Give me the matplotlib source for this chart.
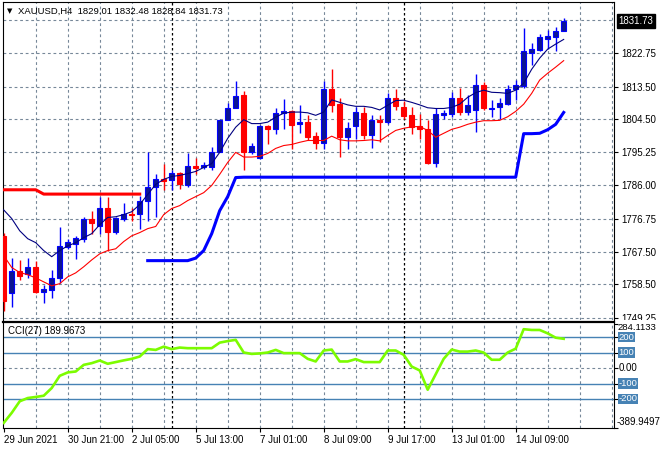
import matplotlib.pyplot as plt
import matplotlib.transforms as mtransforms
import numpy as np

plt.rcParams['font.family'] = ['Liberation Sans', 'DejaVu Sans']
plt.rcParams['font.size'] = 7

# H4 candles (oldest first)
opens = [1772.0, 1756.2, 1762.1, 1761.5, 1763.4, 1756.5, 1757.0, 1760.3, 1769.0, 1769.7,
         1771.1, 1776.7, 1774.8, 1779.8, 1773.0, 1776.7, 1778.1, 1778.1, 1781.8, 1785.5,
         1787.9, 1787.4, 1789.4, 1786.0, 1791.3, 1791.1, 1791.1, 1795.3, 1804.1, 1807.4,
         1811.1, 1795.3, 1793.7, 1802.4, 1801.8, 1806.1, 1806.7, 1803.2, 1803.6, 1799.7,
         1797.8, 1812.7, 1808.6, 1799.5, 1802.4, 1806.1, 1799.9, 1804.3, 1803.6, 1810.4,
         1807.7, 1805.5, 1802.4, 1801.8, 1792.2, 1805.7, 1805.8, 1810.4, 1806.4, 1807.1,
         1813.9, 1807.3, 1807.7, 1808.6, 1812.9, 1813.6, 1822.9, 1823.6, 1826.8, 1827.3,
         1829.01]
highs = [1772.9, 1765.9, 1765.3, 1765.9, 1765.1, 1758.4, 1762.6, 1774.4, 1771.2, 1772.0,
         1777.1, 1779.0, 1782.9, 1782.7, 1777.1, 1781.0, 1779.6, 1783.2, 1795.3, 1789.3,
         1792.1, 1790.2, 1789.7, 1794.9, 1793.5, 1792.5, 1796.7, 1804.4, 1809.0, 1815.1,
         1812.3, 1797.8, 1802.7, 1802.7, 1807.4, 1809.9, 1807.1, 1808.5, 1805.5, 1800.9,
         1815.1, 1818.5, 1810.2, 1803.6, 1807.8, 1807.8, 1805.5, 1805.5, 1811.7, 1812.7,
         1809.5, 1807.8, 1806.0, 1804.1, 1807.4, 1807.1, 1812.0, 1813.0, 1811.1, 1817.1,
         1814.8, 1809.7, 1810.4, 1813.9, 1815.3, 1829.7, 1825.7, 1828.1, 1829.2, 1830.1,
         1832.48]
lows = [1751.1, 1752.2, 1759.8, 1760.4, 1756.2, 1753.2, 1754.6, 1759.0, 1768.4, 1765.5,
        1770.2, 1772.5, 1772.5, 1767.9, 1772.6, 1776.2, 1776.2, 1773.9, 1776.2, 1777.1,
        1784.6, 1784.6, 1785.1, 1785.5, 1789.1, 1790.6, 1790.2, 1795.2, 1804.1, 1807.4,
        1790.2, 1794.8, 1793.4, 1797.4, 1800.2, 1801.8, 1796.2, 1800.6, 1798.5, 1796.2,
        1796.2, 1806.4, 1793.9, 1796.2, 1799.0, 1799.0, 1796.5, 1798.1, 1803.2, 1806.9,
        1804.6, 1800.4, 1799.0, 1792.0, 1791.1, 1804.6, 1804.9, 1805.5, 1805.5, 1800.9,
        1806.9, 1804.9, 1804.6, 1808.3, 1809.7, 1813.2, 1819.5, 1823.4, 1823.8, 1823.4,
        1828.84]
closes = [1753.9, 1762.1, 1760.9, 1763.4, 1756.5, 1757.3, 1760.3, 1769.2, 1770.4, 1771.4,
          1776.7, 1775.5, 1779.8, 1773.0, 1776.9, 1778.1, 1777.8, 1781.8, 1785.5, 1787.9,
          1787.2, 1789.4, 1786.3, 1791.3, 1790.9, 1791.8, 1795.3, 1804.1, 1807.4, 1810.8,
          1795.3, 1797.1, 1802.4, 1801.8, 1806.1, 1806.7, 1802.7, 1803.6, 1799.5, 1797.8,
          1812.7, 1808.3, 1799.5, 1802.1, 1806.4, 1799.9, 1804.3, 1803.6, 1810.4, 1808.0,
          1805.2, 1802.2, 1801.7, 1792.2, 1805.8, 1806.1, 1810.4, 1806.4, 1808.3, 1813.9,
          1807.4, 1807.4, 1808.8, 1812.9, 1813.9, 1823.4, 1823.8, 1827.2, 1827.5, 1828.9,
          1831.73]

# indicator lines
ma_fast = [1779.2, 1776.8, 1773.4, 1771.2, 1770.1, 1767.9, 1766.2, 1767.9, 1769.2, 1770.1,
           1771.5, 1772.6, 1775.1, 1777.1, 1777.3, 1777.9, 1778.7, 1780.7, 1783.5, 1786.3,
           1787.7, 1788.5, 1788.8, 1789.3, 1789.9, 1791.0, 1792.1, 1795.2, 1799.1, 1802.2,
           1804.3, 1803.2, 1803.2, 1803.6, 1805.0, 1806.1, 1806.4, 1806.4, 1806.2, 1805.5,
           1806.4, 1809.8, 1809.1, 1808.4, 1808.0, 1808.0, 1807.7, 1807.0, 1808.3, 1809.6,
           1809.7, 1809.1, 1808.4, 1807.6, 1807.4, 1807.4, 1807.7, 1808.6, 1810.5, 1811.8,
           1812.5, 1811.9, 1811.8, 1811.6, 1812.5, 1814.4, 1818.3, 1821.4, 1823.9, 1825.3,
           1826.6]
ma_slow = [1766.5, 1763.2, 1761.8, 1761.2, 1760.3, 1759.2, 1758.1, 1758.7, 1760.6, 1761.7,
           1763.4, 1765.3, 1767.0, 1767.9, 1768.4, 1770.4, 1772.0, 1772.9, 1774.0, 1774.6,
           1777.9, 1779.6, 1780.4, 1781.8, 1782.9, 1784.0, 1786.0, 1789.1, 1792.4, 1795.2,
           1793.9, 1793.9, 1794.1, 1794.9, 1796.3, 1797.1, 1797.4, 1798.0, 1798.5, 1798.5,
           1798.5, 1799.7, 1798.7, 1798.4, 1798.4, 1798.5, 1798.7, 1798.4, 1799.9, 1801.3,
           1801.9, 1802.3, 1802.4, 1801.3, 1799.4, 1800.5, 1801.6, 1802.2, 1803.0, 1803.6,
           1804.0, 1804.0, 1804.1, 1805.1, 1806.6, 1808.6, 1811.6, 1815.3, 1817.2, 1818.9,
           1820.7]
stop_red = [1784.8, 1784.8, 1784.8, 1784.8, 1784.8, 1783.6, 1783.6, 1783.6, 1783.6,
            1783.6, 1783.6, 1783.6, 1783.6, 1783.6, 1783.6, 1783.6, 1783.6, 1783.6]
stop_blue = [1765.1, 1765.1, 1765.1, 1765.1, 1765.1, 1765.1, 1765.8, 1767.9, 1772.6,
             1779.0, 1782.9, 1788.2, 1788.3, 1788.3, 1788.3, 1788.3, 1788.3, 1788.3,
             1788.3, 1788.3, 1788.3, 1788.3, 1788.3, 1788.3, 1788.3, 1788.3, 1788.3,
             1788.3, 1788.3, 1788.3, 1788.3, 1788.3, 1788.3, 1788.3, 1788.3, 1788.3,
             1788.3, 1788.3, 1788.3, 1788.3, 1788.3, 1788.3, 1788.3, 1788.3, 1788.3,
             1788.3, 1788.3, 1800.4, 1800.4, 1800.5, 1801.5, 1803.0, 1806.3]
cci = [-355, -290, -215, -194, -187, -179, -129, -50, -28, -22,
       21, 32, 49, 28, 39, 50, 60, 75, 123, 118,
       139, 123, 133, 129, 129, 129, 129, 165, 175, 183,
       101, 92, 95, 101, 118, 97, 97, 97, 60, 43,
       114, 120, 43, 43, 58, 39, 39, 39, 114, 114,
       86, 10, -15, -140, -40, 60, 120, 107, 107, 114,
       101, 54, 54, 101, 126, 252, 247, 247, 225, 197,
       189.9673]
cci_max, cci_min = 284.1133, -389.9497
cci_levels = [200, 100, -100, -200]

price_ticks = [1749.25, 1758.50, 1767.50, 1776.75, 1786.00, 1795.25, 1804.50, 1813.50, 1822.75]
price_grid = price_ticks + [1832.0]
time_labels = ["29 Jun 2021", "30 Jun 21:00", "2 Jul 05:00", "5 Jul 13:00", "7 Jul 01:00",
               "8 Jul 09:00", "9 Jul 17:00", "13 Jul 01:00", "14 Jul 09:00"]
time_pos = [0, 8, 16, 24, 32, 40, 48, 56, 64]
week_sep = [21, 50]

W, H = 660, 450
grid_kw = dict(color='#778899', lw=0.8, linestyle=(0, (2.5, 2.5)), zorder=1)


def px_box(left, top, right, bottom):
    return [left / W, 1 - bottom / H, (right - left) / W, (bottom - top) / H]


fig = plt.figure(figsize=(6.6, 4.5), dpi=100)
ax = fig.add_axes(px_box(3, 2, 614, 320))
ax2 = fig.add_axes(px_box(3, 321.7, 614, 428.3), sharex=ax)

bars = np.arange(len(closes))

# grids and separators
for a in (ax, ax2):
    for g in range(4, 77, 4):
        a.axvline(g, **grid_kw)
    for s in week_sep:
        a.axvline(s, color='black', lw=0.9, linestyle=(0, (2, 2)), zorder=2)
for p in price_grid:
    ax.axhline(p, **grid_kw)

# candles
for i in bars:
    up = closes[i] >= opens[i]
    wick = '#0000ff' if up else '#ff0000'
    face = '#0c1591' if up else '#ff0000'
    lo, hi = min(opens[i], closes[i]), max(opens[i], closes[i])
    ax.vlines(i, lows[i], highs[i], color=wick, lw=1, zorder=3)
    ax.bar(i, hi - lo, bottom=lo, width=0.6, color=face, edgecolor=wick, lw=0.8, zorder=4)

ax.plot(bars, ma_fast, color='#000080', lw=0.8, zorder=5)
ax.plot(bars, ma_slow, color='#ff0000', lw=0.8, zorder=5)
ax.plot(bars[:len(stop_red)], stop_red, color='#ff0000', lw=2.2, zorder=5)
ax.plot(bars[len(bars) - len(stop_blue):], stop_blue, color='#0000ff', lw=2.2, zorder=5)

ax.set_xlim(-0.09, 76.29)
ax.set_ylim(1748.6, 1837.0)
ax.yaxis.tick_right()
ax.set_yticks(price_ticks)
ax.set_yticklabels([f"{p:.2f}" for p in price_ticks])
ax.tick_params(axis='y', length=3, width=0.8, pad=2, labelsize=7)
ax.tick_params(axis='x', bottom=False, labelbottom=False)
ax.spines['bottom'].set_visible(False)

# the lowest price label is cut off by the indicator window, as in the terminal
clip = mtransforms.TransformedBbox(mtransforms.Bbox([[0, 1 - 320 / H], [1, 1]]),
                                   fig.transFigure)
for lbl in ax.get_yticklabels():
    lbl.set_clip_on(True)
    lbl.set_clip_box(clip)

# last price box
bt = mtransforms.blended_transform_factory(ax.transAxes, ax.transData)
ax.text(1.0075, closes[-1], f"{closes[-1]:.2f}", transform=bt, ha='left', va='center',
        color='white', fontsize=7,
        bbox=dict(boxstyle='square,pad=0.2', fc='black', ec='black'))

# chart header
ax.text(4 / 611, 1 - 9 / 318, "\u25bc", transform=ax.transAxes, fontsize=5,
        family='DejaVu Sans', ha='left', va='center')
ax.text(15 / 611, 1 - 9 / 318,
        f"XAUUSD,H4  {opens[-1]:.2f} {highs[-1]:.2f} {lows[-1]:.2f} {closes[-1]:.2f}",
        transform=ax.transAxes, ha='left', va='center', fontsize=6.8)

# CCI subwindow
ax2.axhline(0, **grid_kw)
for lv in cci_levels:
    ax2.axhline(lv, color='#4682b4', lw=1, zorder=1)
ax2.plot(bars, cci, color='#7cfc00', lw=1.9, zorder=5)
ax2.set_ylim(-387, 300.6)
ax2.yaxis.tick_right()
ax2.set_yticks([cci_max, 0] + cci_levels + [cci_min])
ax2.set_yticklabels([])
ax2.tick_params(axis='y', length=3, width=0.8)
ax2.spines['top'].set_linewidth(1.6)

bt2 = mtransforms.blended_transform_factory(ax2.transAxes, ax2.transData)
for lv in cci_levels:
    ax2.text(1.0075, lv, f"{lv}", transform=bt2, ha='left', va='center', color='white',
             fontsize=6.8, bbox=dict(boxstyle='square,pad=0.08', fc='#4682b4', ec='none'))
ax2.text(1.0075, 0, "0.00", transform=bt2, ha='left', va='center', fontsize=7)
ax2.text(1.005, 0.945, f"{cci_max:.4f}", transform=ax2.transAxes, ha='left', va='center',
         fontsize=6.8)
ax2.text(1.005, 0.055, f"{cci_min:.4f}", transform=ax2.transAxes, ha='left', va='center',
         fontsize=7)
ax2.text(5 / 611, 0.91, f"CCI(27) {cci[-1]:.4f}", transform=ax2.transAxes,
         ha='left', va='center', fontsize=7)

ax2.set_xticks(time_pos)
ax2.set_xticklabels(time_labels, ha='left')
ax2.tick_params(axis='x', length=3, width=0.8, pad=2, labelsize=7)

plt.savefig("out.png", dpi=100)
